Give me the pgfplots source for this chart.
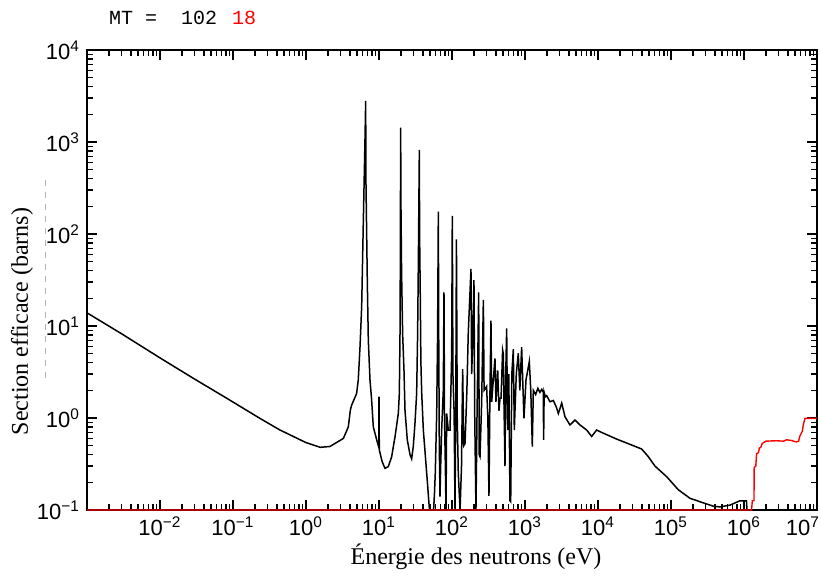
\documentclass[border=0pt]{standalone}
\usepackage{pgfplots}
\pgfplotsset{compat=1.18}
\usepackage{fontspec}
\setmainfont{Liberation Serif}
\newfontfamily\tickfont{Liberation Sans}
\newfontfamily\monofont{Liberation Mono}

\pgfplotstableread{
E s
0.001 13.9
0.003 8.2
0.01 4.5
0.0286 2.70
0.082 1.64
0.234 0.99
0.44 0.74
0.67 0.63
1.0 0.54
1.56 0.48
2.13 0.49
3.25 0.60
3.8 0.80
4.05 1.22
4.22 1.38
4.94 1.85
5.2 2.59
5.5 6
5.79 16.2
6.10 136
6.45 1200
6.57 2800
6.62 400
6.92 30
7.14 7
7.53 2.59
7.93 1.57
8.36 0.80
9.29 0.58
9.95 0.48
10.0 1.71
10.1 0.45
11.0 0.34
11.5 0.31
12.1 0.284
13.4 0.296
14.9 0.378
16.6 0.63
18.4 1.12
19.0 1.85
19.4 8
19.6 48
19.8 1430
20.0 200
20.4 37
21.1 8
22.0 3.3
22.7 1.22
24.4 0.58
26.6 0.40
28.0 0.36
29.5 0.49
31.1 0.87
32.8 1.85
33.8 8
34.6 48
35.7 819
36.0 100
36.8 20
37.5 4
38.5 1.85
40.5 0.74
44.1 0.31
46.5 0.18
48.9 0.105
50 0.1
56 0.1
57.5 0.15
59 0.25
61.7 1.12
63.5 8
65 175
65.8 8
67 0.5
68.5 0.14
70 0.3
72.2 0.74
76 2
77.7 23.2
79 1
81 0.32
82.8 0.1
84.5 1.12
89 0.74
94 0.74
99 5
101 157
103 3
107 1.12
110 0.1
113 2
115 87.5
118 1
122 0.25
129 0.1
135 0.3
140 3.4
145 0.5
151 0.53
160 2
167 8.3
182 41.7
186 3
192 6.5
200 31.6
205 1
213 0.1
220 1
232 23.2
236 0.4
242 0.38
255 1.5
269 19.2
275 2
298 2.2
310 1
321 0.142
330 1.5
342 11.4
350 1.5
368 2.6
388 4.45
400 1.5
423 3.3
440 1.2
455 1.64
470 1.64
494 5.48
505 5.0
515 1.5
532 0.30
545 3
561 9.43
575 1
585 0.74
600 3
623 0.126
637 0.123
660 3
692 5.6
714 0.74
760 3
809 5.05
850 2
900 5.9
968 0.99
1032 2.59
1146 4.1
1200 2
1260 0.49
1300 2.0
1400 1.8
1500 2.1
1600 1.9
1700 2.05
1780 1.9
1800 0.58
1830 1.9
1900 1.7
1982 1.75
2200 1.5
2445 1.55
2700 1.3
2862 1.12
3186 1.45
3533 1.03
4130 0.84
4838 0.95
5665 0.84
6997 0.74
8190 0.63
9590 0.74
10640 0.71
18000 0.59
30500 0.50
39650 0.46
48900 0.38
60350 0.30
87300 0.23
125900 0.166
182000 0.134
249600 0.123
380000 0.11
468000 0.108
643000 0.113
880000 0.126
1080000 0.126
1100000 0.1
}\capture

\pgfplotstableread{
E s
0.001 0.1
1270000 0.1
1300000 0.126
1370000 0.126
1380000 0.29
1450000 0.30
1490000 0.41
1580000 0.42
1620000 0.47
1700000 0.48
1780000 0.53
2000000 0.56
2800000 0.566
3500000 0.56
3850000 0.58
4400000 0.57
5250000 0.55
5600000 0.56
5800000 0.63
6300000 0.72
6500000 0.85
6850000 0.99
10000000 0.99
}\fission

\begin{document}
\begin{tikzpicture}
\useasboundingbox (0,0) rectangle (410.5pt,288.5pt);
\begin{axis}[
  at={(43.5pt,33.5pt)}, anchor=south west,
  scale only axis, width=365pt, height=230pt,
  xmode=log, ymode=log,
  xmin=1e-3, xmax=1e7, ymin=1e-1, ymax=1e4,
  xtick={1e-3,1e-2,1e-1,1,10,100,1e3,1e4,1e5,1e6,1e7},
  xticklabels={{},10\textsuperscript{−2},10\textsuperscript{−1},10\textsuperscript{0},10\textsuperscript{1},10\textsuperscript{2},10\textsuperscript{3},10\textsuperscript{4},10\textsuperscript{5},10\textsuperscript{6},10\textsuperscript{7}\hspace*{14pt}},
  ytick={1e-1,1,10,100,1000,10000},
  yticklabels={10\textsuperscript{−1},10\textsuperscript{0},10\textsuperscript{1},10\textsuperscript{2},10\textsuperscript{3},10\textsuperscript{4}},
  ticklabel style={font=\tickfont\fontsize{11}{13}\selectfont},
  tick align=inside,
  major tick length=5pt, minor tick length=3pt,
  axis line style={line width=0.9pt},
  every tick/.style={black, line width=0.6pt},
  clip=false,
]
\addplot[black, line width=0.75pt, sharp plot] table[x=E,y=s] {\capture};
\addplot[red, line width=0.7pt, sharp plot] table[x=E,y=s] {\fission};
\end{axis}
\node[anchor=west, font=\monofont\fontsize{10}{12}\selectfont] at (51pt,279.5pt) {MT =};
\node[anchor=west, font=\monofont\fontsize{10}{12}\selectfont] at (87pt,279.5pt) {102};
\node[anchor=west, font=\monofont\fontsize{10}{12}\selectfont, text=red] at (112.5pt,279.5pt) {18};
\node[font=\fontsize{12}{14}\selectfont] at (238pt,10pt) {Énergie des neutrons (eV)};
\node[rotate=90, font=\fontsize{12}{14}\selectfont] at (11pt,127.75pt) {Section efficace (barns)};
\draw[gray!60, dashed, line width=0.3pt] (22.5pt,198.5pt) -- (22.5pt,97pt);
\end{tikzpicture}
\end{document}
